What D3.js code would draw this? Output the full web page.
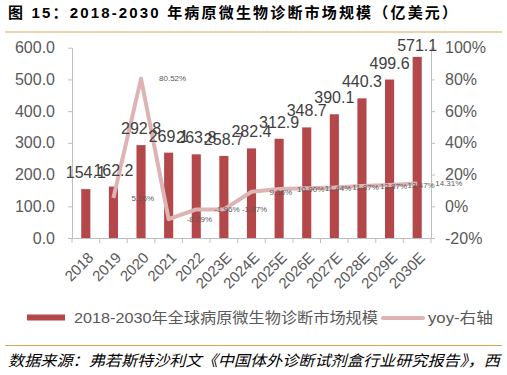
<!DOCTYPE html>
<html>
<head>
<meta charset="utf-8">
<script src="https://cdn.jsdelivr.net/npm/d3@7"></script>
<style>
  body { margin: 0; background: #fff; }
  svg { display: block; font-family: "Liberation Sans", "Noto Sans CJK SC", sans-serif; }
</style>
</head>
<body>
<div id="chart"></div>
<script>
// values
const categories = ["2018", "2019", "2020", "2021", "2022", "2023E", "2024E", "2025E", "2026E", "2027E", "2028E", "2029E", "2030E"];
const marketSize = [154.1, 162.2, 292.8, 269.1, 263.8, 258.7, 282.4, 312.9, 348.7, 390.1, 440.3, 499.6, 571.1];
const yoy = [null, 5.26, 80.52, -8.09, -1.96, -1.97, 9.16, 10.90, 11.44, 11.87, 12.87, 13.47, 14.31];
const leftTicks = [0, 100, 200, 300, 400, 500, 600];
const rightTicks = [-20, 0, 20, 40, 60, 80, 100];

const title = "图 15：2018-2030 年病原微生物诊断市场规模（亿美元）";
const barName = "2018-2030年全球病原微生物诊断市场规模";
const lineName = "yoy-右轴";
const source = "数据来源：弗若斯特沙利文《中国体外诊断试剂盒行业研究报告》，西";

const W = 507, H = 375;
const plot = { left: 72, right: 431, top: 47.7, bottom: 238 };
const barColor = "#b4474a", lineColor = "#ddb3b3", axisColor = "#bfbfbf", textColor = "#595959";

const svg = d3.select("#chart").append("svg")
    .attr("width", W)
    .attr("height", H);

// title + rules
svg.append("text")
    .attr("x", 8).attr("y", 18)
    .attr("font-size", 15).attr("font-weight", "bold")
    .attr("textLength", 449).attr("lengthAdjust", "spacing")
    .attr("fill", "#000")
    .text(title);
svg.append("line").attr("x1", 5).attr("x2", 502).attr("y1", 32).attr("y2", 32)
    .attr("stroke", "#d9a55c").attr("stroke-width", 1.2);
svg.append("line").attr("x1", 5).attr("x2", 502).attr("y1", 345.5).attr("y2", 345.5)
    .attr("stroke", "#d9a55c").attr("stroke-width", 1.2);

const x = d3.scaleBand()
    .domain(categories)
    .range([plot.left, plot.right])
    .paddingInner(0.67)
    .paddingOuter(0.335);
const y = d3.scaleLinear().domain([0, 600]).range([plot.bottom, plot.top]);
const y2 = d3.scaleLinear().domain([-20, 100]).range([plot.bottom, plot.top]);
const cx = c => x(c) + x.bandwidth() / 2;

// bars
svg.selectAll(".bar")
    .data(categories)
    .enter().append("rect")
    .attr("class", "bar")
    .attr("x", d => x(d))
    .attr("y", (d, i) => y(marketSize[i]))
    .attr("width", x.bandwidth())
    .attr("height", (d, i) => y(0) - y(marketSize[i]))
    .attr("fill", barColor);

// left axis
const gl = svg.append("g")
    .attr("transform", `translate(${plot.left},0)`)
    .call(d3.axisLeft(y).tickValues(leftTicks).tickFormat(d3.format(".1f")).tickSize(4).tickSizeOuter(0));
// right axis
const gr = svg.append("g")
    .attr("transform", `translate(${plot.right},0)`)
    .call(d3.axisRight(y2).tickValues(rightTicks).tickFormat(d => d + "%").tickSize(4).tickSizeOuter(0));
[gl, gr].forEach(g => {
    g.select(".domain").attr("stroke", axisColor);
    g.selectAll(".tick line").attr("stroke", axisColor);
    g.selectAll(".tick text").attr("fill", textColor).attr("font-size", 16)
        .attr("font-family", "Liberation Sans, sans-serif");
});
gl.selectAll(".tick text").attr("x", -17);
gr.selectAll(".tick text").attr("x", 14);

// bottom axis: ticks sit between categories
const gb = svg.append("g")
    .attr("transform", `translate(0,${plot.bottom})`)
    .call(d3.axisBottom(x).tickSize(0).tickSizeOuter(0));
gb.select(".domain").attr("stroke", axisColor);
gb.selectAll(".tick text")
    .attr("fill", textColor).attr("font-size", 15)
    .attr("font-family", "Liberation Sans, sans-serif")
    .attr("text-anchor", "end")
    .attr("x", 0).attr("y", 0).attr("dy", "0.35em")
    .attr("transform", "translate(5,17) rotate(-45)");
gb.selectAll(".sep")
    .data(d3.range(categories.length + 1))
    .enter().append("line")
    .attr("class", "sep")
    .attr("x1", i => plot.left + i * x.step())
    .attr("x2", i => plot.left + i * x.step())
    .attr("y1", 0).attr("y2", 5)
    .attr("stroke", axisColor);

// yoy line
const lineData = categories.map((c, i) => ({ c, v: yoy[i] }));
svg.append("path")
    .datum(lineData)
    .attr("fill", "none")
    .attr("stroke", lineColor)
    .attr("stroke-width", 4)
    .attr("stroke-linejoin", "round")
    .attr("d", d3.line().defined(d => d.v != null).x(d => cx(d.c)).y(d => y2(d.v)));

// bar value labels
svg.selectAll(".barlabel")
    .data(categories)
    .enter().append("text")
    .attr("class", "barlabel")
    .attr("x", d => cx(d))
    .attr("y", (d, i) => Math.max(y(marketSize[i]) - 11, 51))
    .attr("text-anchor", "middle")
    .attr("font-size", 16)
    .attr("fill", "#404040")
    .text((d, i) => marketSize[i].toFixed(1));

// yoy labels
svg.selectAll(".yoylabel")
    .data(lineData.filter(d => d.v != null))
    .enter().append("text")
    .attr("class", "yoylabel")
    .attr("x", d => cx(d.c) + 18)
    .attr("y", d => y2(d.v))
    .attr("dy", "0.35em")
    .attr("font-size", 8)
    .attr("fill", textColor)
    .text(d => d.v.toFixed(2) + "%");

// legend
const lg = svg.append("g");
lg.append("rect").attr("x", 27).attr("y", 314.5).attr("width", 38).attr("height", 6).attr("fill", barColor);
lg.append("text").attr("x", 74).attr("y", 323)
    .attr("font-size", 15).attr("fill", textColor)
    .attr("textLength", 304).attr("lengthAdjust", "spacingAndGlyphs")
    .text(barName);
lg.append("line").attr("x1", 383).attr("x2", 423).attr("y1", 318).attr("y2", 318)
    .attr("stroke", lineColor).attr("stroke-width", 4).attr("stroke-linecap", "round");
lg.append("text").attr("x", 428).attr("y", 323)
    .attr("font-size", 15).attr("fill", textColor)
    .attr("textLength", 65).attr("lengthAdjust", "spacingAndGlyphs")
    .text(lineName);

// source
svg.append("text")
    .attr("x", 8).attr("y", 366)
    .attr("font-size", 15).attr("font-style", "italic")
    .attr("textLength", 492).attr("lengthAdjust", "spacingAndGlyphs")
    .attr("fill", "#000")
    .text(source);
</script>
</body>
</html>
